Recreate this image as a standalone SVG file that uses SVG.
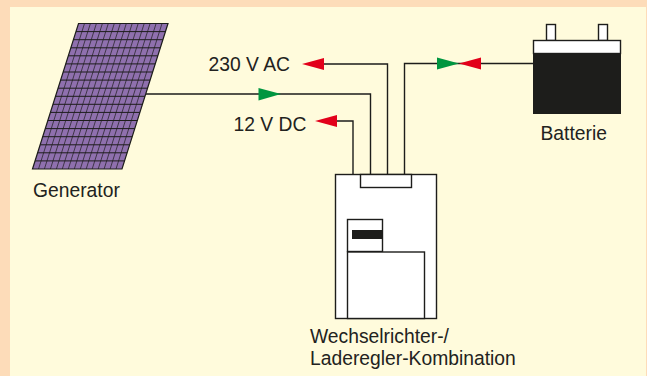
<svg xmlns="http://www.w3.org/2000/svg" width="647" height="376" viewBox="0 0 647 376">
<style>
.ln{fill:none;stroke:#1d1d1b;stroke-width:1.4}
.box{fill:#fff;stroke:#1d1d1b;stroke-width:1.4}
.t{font-family:"Liberation Sans",Arial,sans-serif;font-size:19.3px;fill:#222220}
.gh{fill:none;stroke:#1d1d1b;stroke-width:1}
.gv{fill:none;stroke:#1d1d1b;stroke-width:.7}
</style>
<rect width="647" height="376" fill="#fddcb9"/>
<rect x="10" y="7" width="636" height="369" fill="#fffbdc"/>
<g id="generator">
<polygon points="78.5,23.5 168,23.5 122,169 32.5,169" fill="#8f70ae" stroke="#1d1d1b" stroke-width="1.2"/>
<path class="gh" d="M76,31.6H165.4M73.4,39.7H162.9M70.9,47.8H160.3M68.3,55.8H157.8M65.8,63.9H155.2M63.2,72H152.7M60.7,80.1H150.1M58.1,88.2H147.6M55.6,96.3H145M53,104.3H142.5M50.5,112.4H139.9M47.9,120.5H137.4M45.4,128.6H134.8M42.8,136.7H132.3M40.3,144.8H129.7M37.7,152.8H127.2M35.2,160.9H124.6"/>
<path class="gv" d="M84.5,23.5L38.5,169M90.4,23.5L44.4,169M96.4,23.5L50.4,169M102.4,23.5L56.4,169M108.3,23.5L62.3,169M114.3,23.5L68.3,169M120.3,23.5L74.3,169M126.3,23.5L80.3,169M132.2,23.5L86.2,169M138.2,23.5L92.2,169M144.2,23.5L98.2,169M150.1,23.5L104.1,169M156.1,23.5L110.1,169M162,23.5L116,169"/>
<text class="t" x="33" y="197">Generator</text>
</g>
<g id="connectors">
<path class="ln" d="M146,94H370.500V174"/>
<path class="ln" d="M323,64H387.500V174"/>
<path class="ln" d="M335,121H353V174"/>
<path class="ln" d="M404.500,174V63.500H533"/>
<polygon points="258.500,88 258.500,100.500 281,94" fill="#009640"/>
<polygon points="302,64 324,58 324,70" fill="#e2001a"/>
<polygon points="315,121 337,115 337,127" fill="#e2001a"/>
<polygon points="437,57.500 437,69.500 459,63.500" fill="#009640"/>
<polygon points="459,63.500 481,57.500 481,69.500" fill="#e2001a"/>
</g>
<g id="label-230"><text class="t" x="208.500" y="71">230 V AC</text></g>
<g id="label-12"><text class="t" x="233.500" y="130.500">12 V DC</text></g>
<g id="inverter">
<rect class="box" x="335.500" y="174.500" width="101" height="144"/>
<rect class="box" x="360.500" y="174.500" width="51" height="13"/>
<rect class="box" x="347.500" y="219.500" width="35" height="32"/>
<rect x="352" y="230" width="30" height="9" fill="#1d1d1b"/>
<rect class="box" x="347.500" y="252" width="77" height="66.500"/>
<text class="t" x="310" y="342.500">Wechselrichter-/</text>
<text class="t" x="310" y="365">Laderegler-Kombination</text>
</g>
<g id="battery">
<rect class="box" x="546.500" y="24.500" width="9" height="16"/>
<rect class="box" x="598.500" y="24.500" width="9" height="16"/>
<rect class="box" x="533.500" y="40.500" width="87" height="13"/>
<rect x="533" y="53" width="88" height="61" fill="#1d1d1b"/>
<text class="t" x="540.500" y="139.500">Batterie</text>
</g>
</svg>
